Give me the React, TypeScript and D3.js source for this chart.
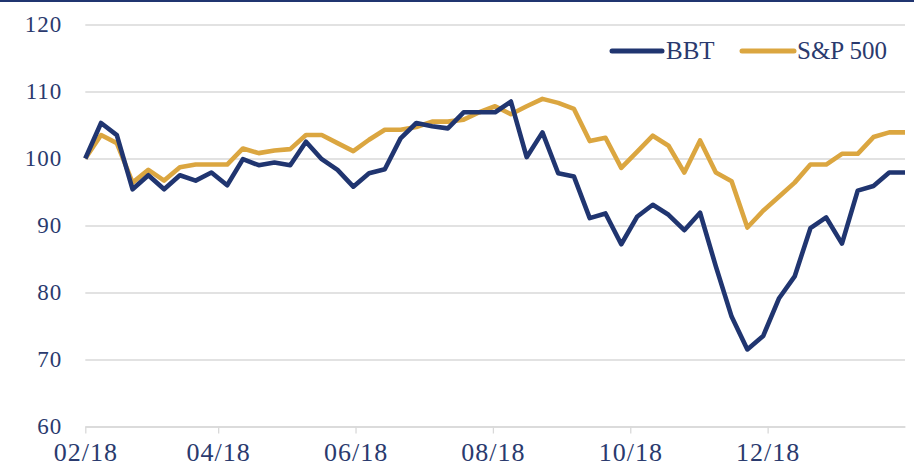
import React, { useEffect, useRef } from 'react';
import * as d3 from 'd3';

const W = 914, H = 469;
const LEFT = 85.3, RIGHT = 905;
const Y_TOP = 24.5, Y_BOTTOM = 426.5;
const NAVY = '#203570';
const GOLD = '#dba640';
const TEXT = '#2a3a6e';
const GRID = '#d9d9d9';
const FONT = '"Liberation Serif", "Times New Roman", serif';

// weekly closes, rebased to 100 on 02/01/18
const START = '2018-02-01';
const BBT = [
  100, 105.3, 103.5, 95.4, 97.5, 95.4, 97.5, 96.7, 97.9, 96, 99.9, 99, 99.4, 99,
  102.5, 99.9, 98.3, 95.8, 97.8, 98.4, 103, 105.3, 104.8, 104.5, 106.9, 106.9, 106.9,
  108.5, 100.2, 103.9, 97.8, 97.3, 91.1, 91.8, 87.2, 91.3, 93.1, 91.6, 89.3, 91.9,
  83.9, 76.4, 71.5, 73.5, 79.1, 82.4, 89.6, 91.2, 87.3, 95.2, 95.9, 97.9, 97.9,
];
const SP500 = [
  100, 103.5, 102.3, 96.4, 98.3, 96.7, 98.7, 99.1, 99.1, 99.1, 101.5, 100.8, 101.2, 101.4,
  103.5, 103.5, 102.3, 101.1, 102.8, 104.3, 104.3, 104.7, 105.5, 105.5, 105.8, 106.9, 107.8,
  106.6, 107.8, 108.9, 108.3, 107.4, 102.6, 103.1, 98.6, 101, 103.4, 101.9, 97.9, 102.7,
  97.9, 96.6, 89.7, 92.2, 94.3, 96.4, 99.1, 99.1, 100.7, 100.7, 103.2, 103.9, 103.9,
];
const Y_TICKS = [60, 70, 80, 90, 100, 110, 120];
const X_TICKS = ['2018-02-01', '2018-04-01', '2018-06-01', '2018-08-01', '2018-10-01', '2018-12-01'];
const SERIES = [
  { name: 'BBT', values: BBT, color: NAVY },
  { name: 'S&P 500', values: SP500, color: GOLD },
];

export default function App() {
  const ref = useRef<SVGSVGElement>(null);

  useEffect(() => {
    const svg = d3.select(ref.current);
    svg.selectAll('*').remove();

    const parse = d3.utcParse('%Y-%m-%d');
    const start = parse(START) as Date;
    const dates = BBT.map((_, i) => d3.utcDay.offset(start, 7 * i));

    const x = d3.scaleUtc()
      .domain([start, dates[dates.length - 1]])
      .range([LEFT, RIGHT]);
    const y = d3.scaleLinear().domain([60, 120]).range([Y_BOTTOM, Y_TOP]);

    // top rule
    svg.append('rect').attr('x', 0).attr('y', 0).attr('width', W).attr('height', 2).attr('fill', NAVY);

    // gridlines + y labels
    const yAxis = svg.append('g').attr('transform', `translate(${LEFT},0)`);
    yAxis.call(
      d3.axisLeft(y).tickValues(Y_TICKS).tickSize(-(RIGHT - LEFT)).tickPadding(23).tickFormat(d => String(d))
    );
    yAxis.select('.domain').remove();
    yAxis.selectAll('line').attr('stroke', GRID).attr('stroke-width', 1.3);
    yAxis.selectAll('text')
      .attr('fill', TEXT).attr('font-size', '23px').attr('font-family', FONT).attr('letter-spacing', '1px');

    // x axis
    const xAxis = svg.append('g').attr('transform', `translate(0,${Y_BOTTOM})`);
    xAxis.call(
      d3.axisBottom(x)
        .tickValues(X_TICKS.map(s => parse(s) as Date))
        .tickSize(7).tickSizeOuter(0).tickPadding(9)
        .tickFormat(d => d3.utcFormat('%m/%y')(d as Date))
    );
    xAxis.select('.domain').attr('stroke', GRID).attr('stroke-width', 1.3);
    xAxis.selectAll('line').attr('stroke', GRID).attr('stroke-width', 1.3);
    xAxis.selectAll('text')
      .attr('fill', TEXT).attr('font-size', '26px').attr('font-family', FONT).attr('letter-spacing', '1px');

    // lines
    const line = d3.line<number>()
      .x((_, i) => x(dates[i]))
      .y(d => y(d));

    SERIES.slice().reverse().forEach(s => {
      svg.append('path')
        .attr('d', line(s.values))
        .attr('fill', 'none')
        .attr('stroke', s.color)
        .attr('stroke-width', 4.6)
        .attr('stroke-linejoin', 'round');
    });

    // legend
    const legend = [
      { x1: 612, x2: 662, tx: 666 },
      { x1: 742, x2: 794, tx: 797 },
    ];
    SERIES.forEach((s, i) => {
      const L = legend[i];
      svg.append('line')
        .attr('x1', L.x1).attr('x2', L.x2).attr('y1', 51).attr('y2', 51)
        .attr('stroke', s.color).attr('stroke-width', 5).attr('stroke-linecap', 'round');
      svg.append('text')
        .attr('x', L.tx).attr('y', 59)
        .attr('fill', TEXT).attr('font-size', '25px').attr('font-family', FONT)
        .text(s.name);
    });
  }, []);

  return (
    <svg ref={ref} width={W} height={H}
      style={{ position: 'absolute', left: 0, top: 0, background: '#fff' }} />
  );
}
